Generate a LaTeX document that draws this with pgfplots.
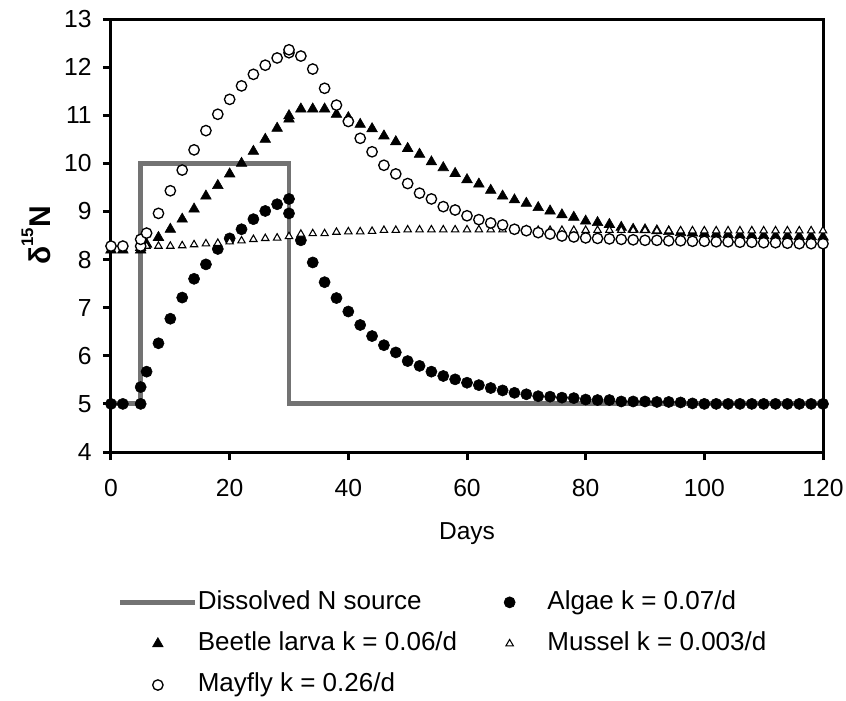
\documentclass[border=0pt]{standalone}
\usepackage{fontspec}
\setmainfont{Liberation Sans}
\usepackage{pgfplots}
\pgfplotsset{compat=1.18}
\definecolor{srcgray}{gray}{0.45}
\pgfplotsset{
  marklegend/.style={legend image code/.code={\path (0pt,0pt) (56.25pt,0pt);\draw[mark repeat=2,mark phase=2,##1] plot coordinates {(0pt,0pt)(28.125pt,0pt)(56.25pt,0pt)};}},
  linelegend/.style={legend image code/.code={\draw[##1] (0pt,0pt) -- (56.25pt,0pt);}},
}
\begin{document}
\begin{tikzpicture}
\useasboundingbox (-83.25pt,-186pt) rectangle (551.25pt,339pt);
\begin{axis}[
  at={(0pt,0pt)}, anchor=south west,
  scale only axis, width=534pt, height=324.75pt,
  xmin=0, xmax=120, ymin=4, ymax=13,
  xtick={0,20,...,120}, ytick={4,5,...,13},
  tick pos=left, tick align=outside,
  major tick length=6pt,
  axis line style={line width=2.25pt},
  every tick/.style={line width=2.25pt, black},
  /pgf/number format/assume math mode=true,
  ticklabel style={font=\fontsize{18.5}{22}\selectfont},
  xticklabel style={yshift=-11pt},
  yticklabel style={xshift=-5pt},
  xlabel={Days},
  xlabel style={at={(axis description cs:0.5,0)}, anchor=base, yshift=-65.25pt, font=\fontsize{18.4}{22}\selectfont},
  ylabel={{\fontsize{22.5}{27}\selectfont\bfseries δ\raisebox{13pt}{\fontsize{12.6}{14}\selectfont\bfseries 15}N}},
  ylabel style={at={(axis description cs:-0.105,0.5)}, anchor=center, rotate=0},
  legend columns=2,
  legend style={at={(axis description cs:0.0098,-0.318)}, anchor=north west,
    draw=none, fill=none, inner sep=0pt, outer sep=0pt,
    font=\fontsize{19.5}{23}\selectfont,
    nodes={inner sep=0pt, text height=14.5pt, text depth=4.5pt, anchor=west},
    row sep=12pt,
    /tikz/every odd column/.append style={column sep=0pt},
    /tikz/every even column/.append style={column sep=11pt}},
]
\addplot[srcgray, line width=3.6pt, mark=none, linelegend]
  coordinates {(0,5)(5,5)(5,10)(30,10)(30,5)(120,5)};
\addlegendentry{Dissolved N source}
\addplot[only marks, mark=*, mark size=4.2pt, black, marklegend]
  coordinates {(0,5.0)(2,5.0)(5,5.0)(5,5.35)(6,5.67)(8,6.26)(10,6.77)(12,7.21)(14,7.6)(16,7.9)(18,8.22)(20,8.44)(22,8.63)(24,8.84)(26,9.01)(28,9.15)(30,9.26)(30,8.96)(32,8.40)(34,7.94)(36,7.53)(38,7.2)(40,6.92)(42,6.64)(44,6.41)(46,6.22)(48,6.07)(50,5.89)(52,5.79)(54,5.67)(56,5.58)(58,5.51)(60,5.44)(62,5.39)(64,5.33)(66,5.28)(68,5.23)(70,5.20)(72,5.16)(74,5.15)(76,5.13)(78,5.12)(80,5.09)(82,5.08)(84,5.08)(86,5.05)(88,5.05)(90,5.05)(92,5.04)(94,5.04)(96,5.03)(98,5.01)(100,5.0)(102,5.0)(104,5.0)(106,5.0)(108,5.0)(110,5.0)(112,5.0)(114,5.0)(116,5.0)(118,5.0)(120,5.0)};
\addlegendentry{Algae k = 0.07/d}
\addplot[only marks, mark=triangle*, mark size=4.6pt, black, marklegend]
  coordinates {(0,8.2)(2,8.2)(5,8.2)(5,8.25)(6,8.32)(8,8.46)(10,8.63)(12,8.84)(14,9.05)(16,9.32)(18,9.54)(20,9.78)(22,10.0)(24,10.25)(26,10.5)(28,10.73)(30,10.99)(30,10.92)(32,11.13)(34,11.13)(36,11.13)(38,11.02)(40,10.95)(42,10.81)(44,10.72)(46,10.57)(48,10.45)(50,10.31)(52,10.19)(54,10.03)(56,9.91)(58,9.79)(60,9.66)(62,9.57)(64,9.44)(66,9.32)(68,9.24)(70,9.17)(72,9.08)(74,9.01)(76,8.93)(78,8.88)(80,8.80)(82,8.77)(84,8.73)(86,8.67)(88,8.63)(90,8.62)(92,8.60)(94,8.58)(96,8.56)(98,8.55)(100,8.54)(102,8.53)(104,8.52)(106,8.51)(108,8.50)(110,8.50)(112,8.49)(114,8.49)(116,8.48)(118,8.48)(120,8.47)};
\addlegendentry{Beetle larva k = 0.06/d}
\addplot[only marks, mark=triangle*, mark size=3.2pt, black, mark options={fill=white, line width=0.8pt}, marklegend]
  coordinates {(0,8.28)(2,8.28)(5,8.28)(6,8.28)(8,8.28)(10,8.28)(12,8.29)(14,8.31)(16,8.33)(18,8.34)(20,8.37)(22,8.39)(24,8.42)(26,8.44)(28,8.45)(30,8.48)(32,8.53)(34,8.54)(36,8.54)(38,8.57)(40,8.58)(42,8.58)(44,8.59)(46,8.61)(48,8.61)(50,8.62)(52,8.62)(54,8.62)(56,8.62)(58,8.62)(60,8.62)(62,8.62)(64,8.62)(66,8.62)(68,8.63)(70,8.62)(72,8.61)(74,8.61)(76,8.61)(78,8.61)(80,8.61)(82,8.61)(84,8.61)(86,8.61)(88,8.61)(90,8.61)(92,8.60)(94,8.60)(96,8.60)(98,8.60)(100,8.60)(102,8.60)(104,8.60)(106,8.60)(108,8.60)(110,8.60)(112,8.60)(114,8.60)(116,8.60)(118,8.60)(120,8.60)};
\addlegendentry{Mussel k = 0.003/d}
\addplot[only marks, mark=*, mark size=3.9pt, black, mark options={fill=white, line width=1pt}, marklegend]
  coordinates {(0,8.28)(2,8.28)(5,8.28)(5,8.42)(6,8.55)(8,8.96)(10,9.43)(12,9.86)(14,10.28)(16,10.68)(18,11.02)(20,11.33)(22,11.61)(24,11.85)(26,12.04)(28,12.19)(30,12.30)(30,12.36)(32,12.23)(34,11.96)(36,11.56)(38,11.21)(40,10.87)(42,10.52)(44,10.24)(46,9.96)(48,9.78)(50,9.58)(52,9.38)(54,9.26)(56,9.10)(58,9.03)(60,8.91)(62,8.83)(64,8.76)(66,8.72)(68,8.63)(70,8.60)(72,8.56)(74,8.53)(76,8.49)(78,8.47)(80,8.45)(82,8.44)(84,8.43)(86,8.42)(88,8.41)(90,8.40)(92,8.40)(94,8.39)(96,8.39)(98,8.38)(100,8.38)(102,8.37)(104,8.37)(106,8.36)(108,8.36)(110,8.35)(112,8.35)(114,8.34)(116,8.33)(118,8.33)(120,8.33)};
\addlegendentry{Mayfly k = 0.26/d}
\end{axis}
\end{tikzpicture}
\end{document}
